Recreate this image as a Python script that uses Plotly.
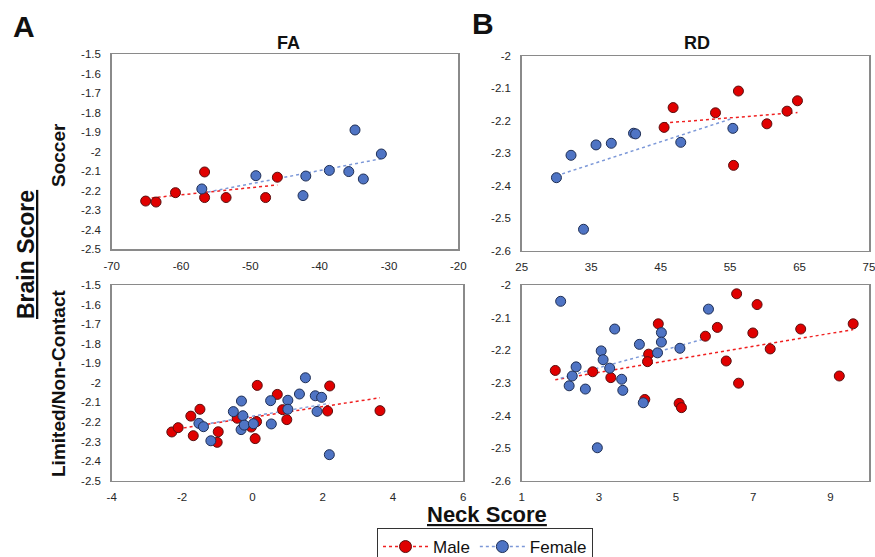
import numpy as np
import plotly.graph_objects as go

# ---------------- data ----------------
# Panel A top: FA vs neck score, Soccer
fa_soc_male_x = [-65.1, -63.6, -60.8, -56.6, -56.6, -53.5, -47.8, -46.1]
fa_soc_male_y = [-2.253, -2.258, -2.210, -2.104, -2.235, -2.235, -2.235, -2.131]
fa_soc_female_x = [-57.0, -49.2, -42.0, -42.4, -38.6, -35.8, -34.9, -33.7, -31.1]
fa_soc_female_y = [-2.191, -2.123, -2.125, -2.225, -2.096, -2.102, -1.889, -2.140, -2.012]

# Panel B top: RD, Soccer
rd_soc_male_x = [45.5, 46.8, 52.9, 56.2, 55.5, 60.3, 63.2, 64.7]
rd_soc_male_y = [-2.220, -2.159, -2.175, -2.108, -2.337, -2.209, -2.170, -2.138]
rd_soc_female_x = [30.0, 32.1, 35.7, 37.9, 41.1, 41.4, 47.9, 55.4, 33.9]
rd_soc_female_y = [-2.375, -2.306, -2.274, -2.269, -2.238, -2.240, -2.266, -2.223, -2.534]

# Panel A bottom: FA, Limited/Non-Contact
fa_lnc_male_x = [-2.29, -2.11, -1.75, -1.68, -1.49, -0.97, -1.00, -0.43, -0.03, 0.12,
                 0.14, 0.08, 0.71, 0.86, 0.98, 2.14, 2.20, 3.63]
fa_lnc_male_y = [-2.251, -2.229, -2.170, -2.270, -2.135, -2.250, -2.304, -2.181, -2.226, -2.198,
                 -2.013, -2.285, -2.059, -2.137, -2.188, -2.144, -2.016, -2.142]
fa_lnc_female_x = [-1.52, -1.39, -1.18, -0.54, -0.31, -0.27, -0.32, -0.23, 0.03, 0.52,
                   0.54, 1.01, 1.01, 1.34, 1.51, 1.79, 1.97, 1.84, 2.19]
fa_lnc_female_y = [-2.207, -2.224, -2.296, -2.147, -2.093, -2.168, -2.239, -2.216, -2.209, -2.091,
                   -2.210, -2.089, -2.135, -2.057, -1.974, -2.066, -2.074, -2.146, -2.367]

# Panel B bottom: RD, Limited/Non-Contact
rd_lnc_male_x = [1.87, 2.84, 3.31, 4.19, 4.29, 4.26, 4.54, 5.08, 5.14, 5.76,
                 6.07, 6.30, 6.57, 6.62, 6.99, 7.10, 7.44, 8.23, 9.23, 9.59]
rd_lnc_male_y = [-2.262, -2.266, -2.284, -2.351, -2.212, -2.235, -2.119, -2.363, -2.376, -2.157,
                 -2.130, -2.233, -2.027, -2.301, -2.147, -2.060, -2.196, -2.135, -2.279, -2.119]
rd_lnc_female_x = [2.01, 2.23, 2.31, 2.41, 2.65, 2.96, 3.06, 3.11, 3.28, 3.41,
                   3.59, 3.62, 4.05, 4.15, 4.52, 4.62, 4.62, 5.10, 5.84]
rd_lnc_female_y = [-2.050, -2.309, -2.279, -2.251, -2.319, -2.499, -2.202, -2.229, -2.255, -2.135,
                   -2.289, -2.323, -2.182, -2.361, -2.208, -2.146, -2.175, -2.194, -2.074]

# axis ticks
fa_y_ticks = [-1.5, -1.6, -1.7, -1.8, -1.9, -2.0, -2.1, -2.2, -2.3, -2.4, -2.5]
rd_y_ticks = [-2.0, -2.1, -2.2, -2.3, -2.4, -2.5, -2.6]
fa_soc_x_ticks = [-70, -60, -50, -40, -30, -20]
rd_soc_x_ticks = [25, 35, 45, 55, 65, 75]
fa_lnc_x_ticks = [-4, -2, 0, 2, 4, 6]
rd_lnc_x_ticks = [1, 3, 5, 7, 9]

# ---------------- style ----------------
FONT = "Liberation Sans, Arial, sans-serif"
RED = "#E00000"
RED_EDGE = "#5a1010"
BLUE = "#4F74C4"
BLUE_EDGE = "#1f2f55"
RED_LINE = "#F02020"
BLUE_LINE = "#7C98D8"

W, H = 875, 557

def dom_x(a, b):
    return [a / W, b / W]

def dom_y(top, bottom):
    return [1 - bottom / H, 1 - top / H]

fig = go.Figure()

panels = [
    ("x", "y", fa_soc_male_x, fa_soc_male_y, fa_soc_female_x, fa_soc_female_y),
    ("x2", "y2", rd_soc_male_x, rd_soc_male_y, rd_soc_female_x, rd_soc_female_y),
    ("x3", "y3", fa_lnc_male_x, fa_lnc_male_y, fa_lnc_female_x, fa_lnc_female_y),
    ("x4", "y4", rd_lnc_male_x, rd_lnc_male_y, rd_lnc_female_x, rd_lnc_female_y),
]

def trend(xs, ys):
    xs = np.asarray(xs, float)
    ys = np.asarray(ys, float)
    m, c = np.polyfit(xs, ys, 1)
    xx = np.array([xs.min(), xs.max()])
    return xx, m * xx + c

for xa, ya, mx, my, fx, fy in panels:
    tx, ty = trend(mx, my)
    fig.add_trace(go.Scatter(x=tx, y=ty, mode="lines", xaxis=xa, yaxis=ya,
                             line=dict(color=RED_LINE, width=1.5, dash="dot"),
                             showlegend=False, hoverinfo="skip"))
    tx, ty = trend(fx, fy)
    fig.add_trace(go.Scatter(x=tx, y=ty, mode="lines", xaxis=xa, yaxis=ya,
                             line=dict(color=BLUE_LINE, width=1.5, dash="dot"),
                             showlegend=False, hoverinfo="skip"))
    fig.add_trace(go.Scatter(x=mx, y=my, mode="markers", xaxis=xa, yaxis=ya,
                             marker=dict(color=RED, size=10, line=dict(color=RED_EDGE, width=1)),
                             showlegend=False))
    fig.add_trace(go.Scatter(x=fx, y=fy, mode="markers", xaxis=xa, yaxis=ya,
                             marker=dict(color=BLUE, size=10, line=dict(color=BLUE_EDGE, width=1)),
                             showlegend=False))

# legend entries
fig.add_trace(go.Scatter(x=[None], y=[None], mode="lines+markers", name="Male",
                         line=dict(color=RED_LINE, width=1.5, dash="dot"),
                         marker=dict(color=RED, size=12, line=dict(color=RED_EDGE, width=1))))
fig.add_trace(go.Scatter(x=[None], y=[None], mode="lines+markers", name="Female",
                         line=dict(color=BLUE_LINE, width=1.5, dash="dot"),
                         marker=dict(color=BLUE, size=12, line=dict(color=BLUE_EDGE, width=1))))

def fmt(v):
    return f"{v:g}"

axis_common = dict(showgrid=False, zeroline=False, showline=True, mirror=True,
                   linecolor="#8a8a8a", linewidth=1.5, ticks="", automargin=False,
                   ticklabeloverflow="allow",
                   tickfont=dict(family=FONT, size=11.5, color="#262626"),
                   fixedrange=True)

def xaxis(domain, rng, ticks, anchor):
    return dict(axis_common, domain=domain, range=rng, tickmode="array",
                tickvals=ticks, ticktext=[fmt(t) for t in ticks], anchor=anchor,
                ticklabelstandoff=5)

def yaxis(domain, rng, ticks, anchor):
    return dict(axis_common, domain=domain, range=rng, tickmode="array",
                tickvals=ticks, ticktext=[fmt(t) for t in ticks], anchor=anchor,
                ticklabelstandoff=7)

fig.update_layout(
    width=W, height=H,
    margin=dict(l=0, r=0, t=0, b=0, autoexpand=False),
    paper_bgcolor="white", plot_bgcolor="white",
    font=dict(family=FONT, color="#111"),
    xaxis=xaxis(dom_x(111.7, 458.3), [-70, -20], fa_soc_x_ticks, "y"),
    yaxis=yaxis(dom_y(54, 249.3), [-2.5, -1.5], fa_y_ticks, "x"),
    xaxis2=xaxis(dom_x(521.7, 869), [25, 75], rd_soc_x_ticks, "y2"),
    yaxis2=yaxis(dom_y(56, 250.7), [-2.6, -2.0], rd_y_ticks, "x2"),
    xaxis3=xaxis(dom_x(111.7, 463.3), [-4, 6], fa_lnc_x_ticks, "y3"),
    yaxis3=yaxis(dom_y(285, 480.7), [-2.5, -1.5], fa_y_ticks, "x3"),
    xaxis4=xaxis(dom_x(521.7, 869), [1, 10], rd_lnc_x_ticks, "y4"),
    yaxis4=yaxis(dom_y(285, 480.7), [-2.6, -2.0], rd_y_ticks, "x4"),
    legend=dict(orientation="h", x=485 / W, xanchor="center", y=1 - 528 / H, yanchor="top",
                bordercolor="#333", borderwidth=1, bgcolor="white",
                font=dict(family=FONT, size=17, color="#111"),
                itemwidth=45, tracegroupgap=0),
    showlegend=True,
)

def ann(text, x, y, size, angle=0):
    fig.add_annotation(text=text, x=x / W, y=1 - y / H, xref="paper", yref="paper",
                       showarrow=False, textangle=angle, xanchor="center", yanchor="middle",
                       font=dict(family=FONT, size=size, color="#111"))

ann("<b>A</b>", 24, 26, 30)
ann("<b>B</b>", 483, 24, 30)
ann("<b>FA</b>", 288, 43, 18)
ann("<b>RD</b>", 697, 43, 18)
ann("<b>Soccer</b>", 58, 155, 19, -90)
ann("<b>Limited/Non-Contact</b>", 58, 383, 19, -90)
ann("<b><u>Brain Score</u></b>", 26, 255, 23, -90)
ann("<b><u>Neck Score</u></b>", 487, 514, 22)

fig.write_html(
    "out.html",
    config={"displayModeBar": False, "staticPlot": True},
    post_script="document.body.style.margin='0px';document.body.style.overflow='hidden';",
)
